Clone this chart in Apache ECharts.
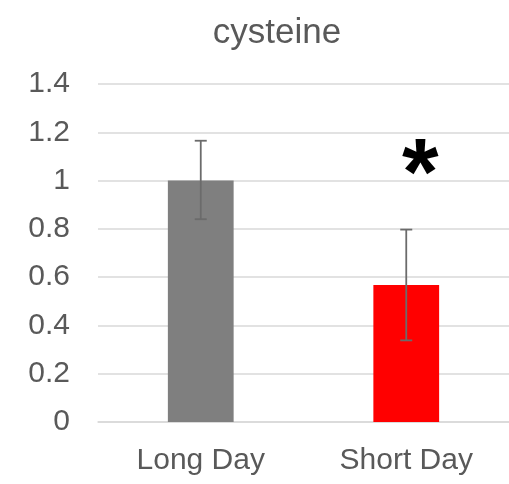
<!DOCTYPE html>
<html>
<head>
<meta charset="utf-8">
<script src="https://cdn.jsdelivr.net/npm/echarts@6/dist/echarts.min.js"></script>
<style>html,body{margin:0;padding:0;background:#fff;}#c{width:509px;height:484px;}</style>
</head>
<body>
<div id="c"></div>
<script>
const categories = ['Long Day', 'Short Day'];
const means = [1.0, 0.567];
const errLow = [0.84, 0.338];
const errHigh = [1.165, 0.797];
const barColors = ['#7f7f7f', '#ff0000'];
const yTicks = [0, 0.2, 0.4, 0.6, 0.8, 1, 1.2, 1.4];
const annotations = [{ cat: 'Short Day', value: 1.09, text: '*' }];

const FONT = 'Liberation Sans, Arial, sans-serif';
const chart = echarts.init(document.getElementById('c'));
chart.setOption({
  animation: false,
  backgroundColor: '#fff',
  title: {
    text: 'cysteine', left: 272, top: 11, textAlign: 'center',
    textStyle: { fontFamily: FONT, fontSize: 35, fontWeight: 'normal', color: '#595959' }
  },
  grid: { left: 98, right: 0, top: 84, bottom: 62 },
  xAxis: {
    type: 'category', data: categories,
    axisLine: { lineStyle: { color: '#d9d9d9', width: 1.5 } },
    axisTick: { show: false },
    axisLabel: { fontFamily: FONT, fontSize: 30, color: '#595959', margin: 24 }
  },
  yAxis: {
    type: 'value', min: yTicks[0], max: yTicks[yTicks.length - 1], interval: 0.2,
    axisLine: { show: false }, axisTick: { show: false },
    splitLine: { lineStyle: { color: '#d9d9d9', width: 1.5 } },
    axisLabel: { fontFamily: FONT, fontSize: 30, color: '#595959', margin: 28,
      formatter: v => String(Math.round(v * 10) / 10) }
  },
  series: [
    {
      type: 'bar', barWidth: '32%',
      data: means.map((v, i) => ({ value: v, itemStyle: { color: barColors[i] } }))
    },
    {
      type: 'custom', z: 5,
      data: categories.map((c, i) => [i, errLow[i], errHigh[i]]),
      renderItem: (params, api) => {
        const lo = api.coord([api.value(0), api.value(1)]);
        const hi = api.coord([api.value(0), api.value(2)]);
        const w = 6;
        const st = { stroke: '#6b6b6b', lineWidth: 1.8 };
        return { type: 'group', children: [
          { type: 'line', shape: { x1: hi[0], y1: hi[1], x2: lo[0], y2: lo[1] }, style: st },
          { type: 'line', shape: { x1: hi[0] - w, y1: hi[1], x2: hi[0] + w, y2: hi[1] }, style: st },
          { type: 'line', shape: { x1: lo[0] - w, y1: lo[1], x2: lo[0] + w, y2: lo[1] }, style: st }
        ]};
      }
    },
    {
      type: 'custom', z: 6,
      data: annotations.map(a => [categories.indexOf(a.cat), a.value, a.text]),
      renderItem: (params, api) => {
        const p = api.coord([api.value(0), api.value(1)]);
        return { type: 'text', x: p[0] + 14, y: p[1] + 19,
          style: { text: annotations[params.dataIndex].text, fill: '#000', font: 'bold 94px ' + FONT,
            align: 'center', verticalAlign: 'middle' } };
      }
    }
  ]
});
</script>
</body>
</html>
